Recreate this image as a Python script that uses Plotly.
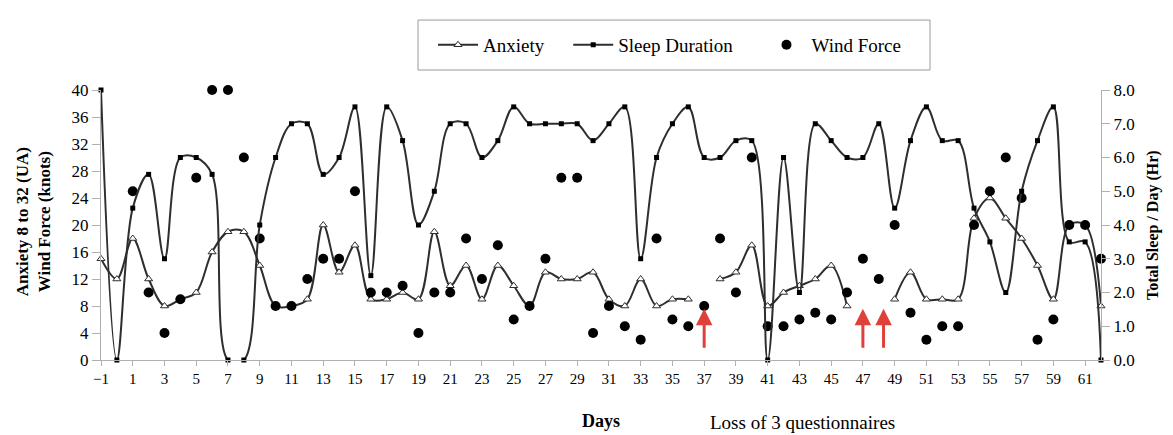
import plotly.graph_objects as go

# Days -1 .. 62
days = list(range(-1, 63))

# Anxiety score (UA), None = questionnaire lost
anxiety = [15, 12, 18, 12, 8, 9, 10, 16, 19, 19,
           14, 8, 8, 9, 20, 13, 17, 9, 9, 10,
           9, 19, 11, 14, 9, 14, 11, 8, 13, 12,
           12, 13, 9, 8, 12, 8, 9, 9, None, 12,
           13, 17, 8, 10, 11, 12, 14, 8, None, None,
           9, 13, 9, 9, 9, 21, 24, 21, 18, 14,
           9, 20, 20, 8]

# Total sleep per day (hours)
sleep = [8.0, 0.0, 4.5, 5.5, 3.0, 6.0, 6.0, 5.5, 0.0, 0.0,
         4.0, 6.0, 7.0, 7.0, 5.5, 6.0, 7.5, 2.5, 7.5, 6.5,
         4.0, 5.0, 7.0, 7.0, 6.0, 6.5, 7.5, 7.0, 7.0, 7.0,
         7.0, 6.5, 7.0, 7.5, 3.0, 6.0, 7.0, 7.5, 6.0, 6.0,
         6.5, 6.5, 0.0, 6.0, 2.0, 7.0, 6.5, 6.0, 6.0, 7.0,
         4.5, 6.5, 7.5, 6.5, 6.5, 4.5, 3.5, 2.0, 5.0, 6.5,
         7.5, 3.5, 3.5, 0.0]

# Wind force (knots)
wind = [None, None, 25, 10, 4, 9, 27, 40, 40, 30,
        18, 8, 8, 12, 15, 15, 25, 10, 10, 11,
        4, 10, 10, 18, 12, 17, 6, 8, 15, 27,
        27, 4, 8, 5, 3, 18, 6, 5, 8, 18,
        10, 30, 5, 5, 6, 7, 6, 10, 15, 12,
        20, 7, 3, 5, 5, 20, 25, 30, 24, 3,
        6, 20, 20, 15]

# days where questionnaires were lost (red arrows)
lost_days = [37, 47, 48.3]

left_ticks = list(range(0, 41, 4))
right_ticks = [0, 1, 2, 3, 4, 5, 6, 7, 8]
day_ticks = list(range(-1, 62, 2))

serif = "Liberation Serif"
ink = "#2e2e2e"
axis_grey = "#b0b0b0"
nb = "\u00a0"

fig = go.Figure()

fig.add_trace(go.Scatter(
    x=days, y=anxiety, name="Anxiety" + nb * 4, mode="lines+markers",
    line=dict(color=ink, width=2, shape="spline"),
    marker=dict(symbol="triangle-up", size=7, color="white",
                line=dict(color=ink, width=1)),
    connectgaps=False, cliponaxis=False))

fig.add_trace(go.Scatter(
    x=days, y=sleep, name="Sleep Duration" + nb * 5, mode="lines+markers", yaxis="y2",
    line=dict(color=ink, width=2, shape="spline"),
    marker=dict(symbol="square", size=5, color="black"),
    cliponaxis=False))

fig.add_trace(go.Scatter(
    x=days, y=wind, name="Wind Force", mode="markers",
    marker=dict(symbol="circle", size=10, color="black"),
    cliponaxis=False))

# red arrows marking lost questionnaires
for d in lost_days:
    fig.add_annotation(x=d, y=7.6, ax=d, ay=1.6, xref="x", yref="y",
                       axref="x", ayref="y", text="", showarrow=True,
                       arrowhead=2, arrowsize=1.1, arrowwidth=3,
                       arrowcolor="#e0403a")

# legend frame
fig.add_shape(type="rect", xref="paper", yref="paper",
              x0=0.317, x1=0.829, y0=1.074, y1=1.259,
              line=dict(color="#9a9a9a", width=1), fillcolor="white", layer="below")

# axis titles and notes
fig.add_annotation(x=-0.068, y=0.51, xref="paper", yref="paper",
                   xanchor="center", yanchor="middle",
                   text="<b>Anxiety 8 to 32 (UA)</b><br><b>Wind Force (knots)</b>",
                   textangle=-90, showarrow=False,
                   font=dict(family=serif, size=17, color="black"))
fig.add_annotation(x=1.052, y=0.5, xref="paper", yref="paper",
                   xanchor="center", yanchor="middle",
                   text="<b>Total Sleep / Day (Hr)</b>",
                   textangle=-90, showarrow=False,
                   font=dict(family=serif, size=16, color="black"))
fig.add_annotation(x=0.5, y=-0.226, xref="paper", yref="paper",
                   xanchor="center", yanchor="middle",
                   text="<b>Days</b>", showarrow=False,
                   font=dict(family=serif, size=18, color="black"))
fig.add_annotation(x=0.701, y=-0.233, xref="paper", yref="paper",
                   xanchor="center", yanchor="middle",
                   text="Loss of 3 questionnaires", showarrow=False,
                   font=dict(family=serif, size=19, color="black"))

# the page adds an 8px body margin, so the figure is 8px smaller
fig.update_layout(
    width=1165, height=427,
    margin=dict(l=93, r=72, t=82, b=75),
    paper_bgcolor="white", plot_bgcolor="white",
    font=dict(family=serif, size=16, color="black"),
    showlegend=True,
    legend=dict(orientation="h", x=0.332, y=1.167, xanchor="left", yanchor="middle",
                borderwidth=0, bgcolor="rgba(0,0,0,0)",
                font=dict(family=serif, size=19), itemwidth=40),
    xaxis=dict(range=[-1, 62], tickvals=day_ticks, showgrid=False,
               zeroline=False, showline=True, linecolor=axis_grey,
               ticks="outside", ticklen=5, tickcolor=axis_grey,
               tickfont=dict(size=15)),
    yaxis=dict(range=[0, 40], tickvals=left_ticks, showgrid=False,
               zeroline=False, showline=True, linecolor=axis_grey,
               ticks="outside", ticklen=8, tickcolor=axis_grey,
               tickfont=dict(size=17)),
    yaxis2=dict(range=[0, 8], tickvals=right_ticks, tickformat=".1f",
                overlaying="y", side="right", showgrid=False,
                zeroline=False, showline=True, linecolor=axis_grey,
                ticks="outside", ticklen=8, tickcolor=axis_grey,
                tickfont=dict(size=17)),
)

fig.write_html("out.html")
